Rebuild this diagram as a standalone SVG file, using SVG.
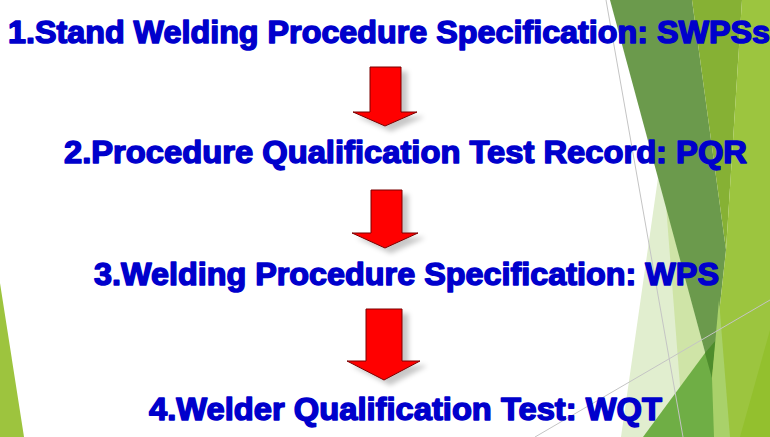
<svg xmlns="http://www.w3.org/2000/svg" width="770" height="437" viewBox="0 0 770 437">
<style>
.t{font-family:"Liberation Sans",Arial,sans-serif;font-weight:bold;font-size:32px;fill:#0000CC;stroke:#0000CC;stroke-width:1.5px;stroke-linejoin:round;}
.arrow{fill:#FF0000;stroke:#7a0000;stroke-width:1;filter:url(#sh);}
.ln{stroke:#c4c4c4;stroke-width:1;fill:none;}
</style>
<defs>
<filter id="sh" x="-30%" y="-30%" width="170%" height="170%">
<feDropShadow dx="6" dy="5" stdDeviation="2.5" flood-color="#000" flood-opacity="0.22"/>
</filter>
</defs>
<rect width="770" height="437" fill="#FFFFFF"/>
<g id="background">
<polygon points="0,283 24,437 0,437" fill="#9dc43e"/>
<polygon points="658,178 621,437 720,437 705,330" fill="#e1eecf"/>
<polygon points="666,205 684,437 720,437 712,378" fill="#cfe4a7"/>
<polygon points="643,437 770,265 770,437" fill="#6fae45"/>
<polygon points="610,0 692,0 726,250 712,378" fill="#6b9a4c"/>
<polygon points="705,353 716,340 712,378" fill="#4e8d2c"/>
<polygon points="692,0 742,0 726,250" fill="#86b134"/>
<polygon points="742,0 770,0 770,437 728,437 712,378 726,250" fill="#9cc53f"/>
<polygon points="712,378 719,300 730,437 714,437" fill="#a9d16a"/>
<polygon points="740,437 770,330 770,437" fill="#93c02e"/>
<line class="ln" x1="606" y1="0" x2="683" y2="437"/>
<line class="ln" x1="535" y1="437" x2="770" y2="300"/>
</g>
<g id="node1"><text class="t" x="8" y="43" textLength="762" lengthAdjust="spacingAndGlyphs">1.Stand Welding Procedure Specification: SWPSs</text></g>
<g id="node2"><text class="t" x="64" y="163" textLength="683" lengthAdjust="spacingAndGlyphs">2.Procedure Qualification Test Record: PQR</text></g>
<g id="node3"><text class="t" x="94" y="285" textLength="625" lengthAdjust="spacingAndGlyphs">3.Welding Procedure Specification: WPS</text></g>
<g id="node4"><text class="t" x="149" y="420" textLength="513" lengthAdjust="spacingAndGlyphs">4.Welder Qualification Test: WQT</text></g>
<g id="connectors">
<polygon class="arrow" points="370,67 401,67 401,112 417,112 385,126 353,112 370,112"/>
<polygon class="arrow" points="371,190 402,190 402,233 418,233 385,248 352,233 371,233"/>
<polygon class="arrow" points="366,309 402,309 402,361 420,361 384,380 347,361 366,361"/>
</g>
</svg>
